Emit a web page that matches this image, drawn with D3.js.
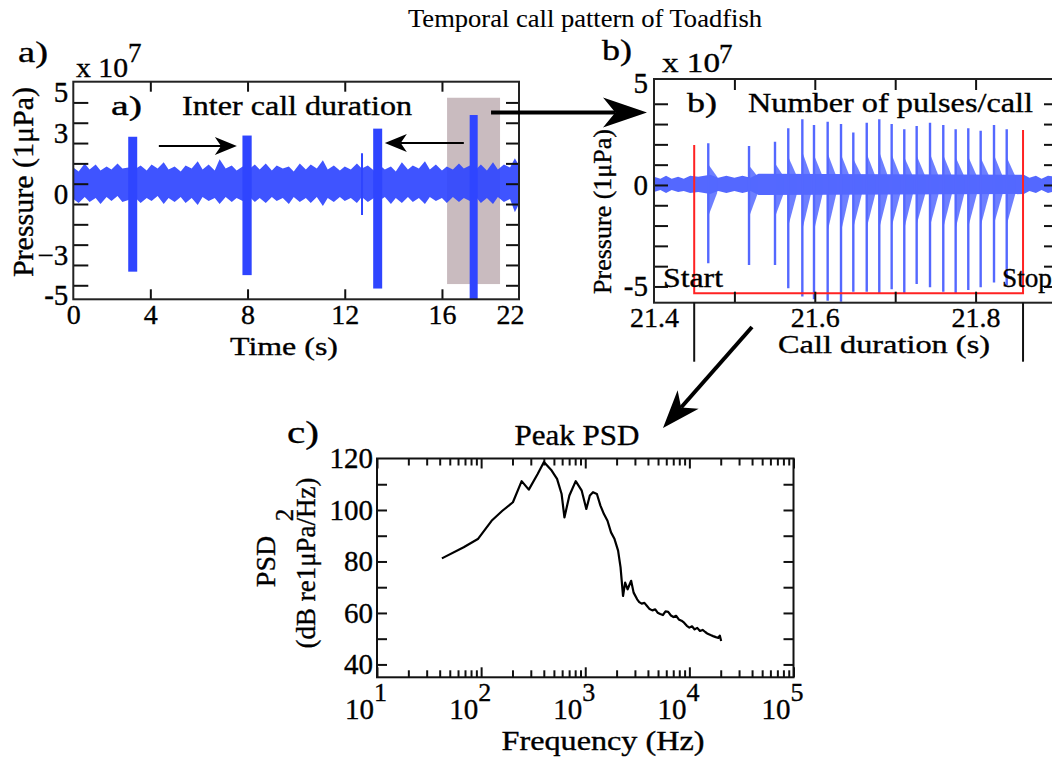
<!DOCTYPE html>
<html>
<head>
<meta charset="utf-8">
<script src="https://cdn.jsdelivr.net/npm/d3@7"></script>
<style>
body { margin: 0; background: #fff; }
svg text { font-family: "Liberation Serif", "Times New Roman", serif; fill: #000; stroke: #000; stroke-width: 0.35px; }
</style>
</head>
<body>
<script>
// Temporal call pattern of Toadfish - three panels
var width = 1052,
    height = 760;

// ---- panel a: whole recording (x 1e7 uPa) ----
var aTimeDomain = [0.83, 19.17];
var aTimeTicks = [0.83, 4, 8, 12, 16, 18.8];
var aTimeLabels = ["0", "4", "8", "12", "16", "22"];
var aTimeMinor = [4, 8, 12, 16];
var aPresDomain = [-5.19, 5.52];
var aPresTicks = [5, 3, 0, -3, -5];
var aPresLabels = ["5", "3", "0", "\u22123", "-5"];
var aPresMinor = [4.5, 3.5, 2.5, 1.5, 0.5, -0.5, -1.5, -2.5, -3.5, -4.5];

// background noise envelope
var aNoiseT  = [0.83, 1.05, 1.3, 1.5, 1.75, 1.95, 2.2, 2.4, 2.65, 2.85,
                3.1, 3.35, 3.6, 3.85, 4.05, 4.3, 4.55, 4.75, 5.0, 5.25,
                5.45, 5.7, 5.95, 6.15, 6.4, 6.65, 6.85, 7.1, 7.35, 7.55,
                7.8, 8.05, 8.3, 8.5, 8.75, 9.0, 9.2, 9.45, 9.7, 9.9,
                10.15, 10.4, 10.6, 10.85, 11.1, 11.3, 11.55, 11.8, 12.0, 12.25,
                12.5, 12.7, 12.95, 13.2, 13.4, 13.65, 13.9, 14.1, 14.35, 14.6,
                14.8, 15.05, 15.3, 15.5, 15.75, 16.0, 16.2, 16.45, 16.7, 16.9,
                17.15, 17.4, 17.6, 17.85, 18.1, 18.3, 18.55, 18.8, 19.0, 19.17];
var aNoiseHi = [1.3, 1.1, 1.5, 1.2, 1.45, 1.15, 1.35, 1.2, 1.5, 1.25,
                1.3, 1.2, 1.4, 1.15, 1.45, 1.25, 1.55, 1.2, 1.35, 1.1,
                1.4, 1.25, 1.6, 1.2, 1.45, 1.15, 1.7, 1.25, 1.4, 1.15,
                1.35, 1.2, 1.45, 1.2, 1.5, 1.15, 1.4, 1.25, 1.35, 1.1,
                1.5, 1.2, 1.45, 1.25, 1.65, 1.2, 1.4, 1.15, 1.35, 1.2,
                1.5, 1.25, 1.4, 1.15, 1.45, 1.2, 1.35, 1.1, 1.55, 1.2,
                1.4, 1.25, 1.6, 1.2, 1.45, 1.15, 1.35, 1.2, 1.5, 1.25,
                1.4, 1.2, 1.45, 1.15, 1.55, 1.2, 1.45, 1.3, 1.75, 1.4];
var aNoiseLo = [-0.25, -0.45, -0.15, -0.4, -0.2, -0.5, -0.15, -0.35, -0.1, -0.4,
                -0.3, -0.15, -0.45, -0.2, -0.35, -0.1, -0.5, -0.2, -0.4, -0.15,
                -0.45, -0.2, -0.55, -0.15, -0.35, -0.2, -0.5, -0.15, -0.4, -0.2,
                -0.35, -0.1, -0.4, -0.2, -0.45, -0.15, -0.35, -0.2, -0.5, -0.15,
                -0.4, -0.2, -0.45, -0.15, -0.6, -0.2, -0.4, -0.15, -0.35, -0.2,
                -0.45, -0.15, -0.4, -0.2, -0.35, -0.15, -0.5, -0.2, -0.45, -0.15,
                -0.4, -0.2, -0.5, -0.15, -0.35, -0.2, -0.45, -0.15, -0.4, -0.2,
                -0.35, -0.15, -0.45, -0.2, -0.5, -0.15, -0.4, -0.25, -0.9, -0.5];

// the four calls
var aCallStart = [3.09, 7.79, 13.17, 17.14];
var aCallEnd   = [3.46, 8.17, 13.54, 17.47];
var aCallHi    = [2.81, 2.87, 3.21, 3.88];
var aCallLo    = [-3.83, -4.0, -4.66, -5.4];
var aClickT  = [12.71];
var aClickHi = [2.0];
var aClickLo = [-1.04];

// highlighted call (t0, t1, top, bottom) and inter call arrows (from, to, level)
var aHighlight = [16.21, 18.39, 4.73, -4.44];
var aArrowFrom  = [4.35, 16.9];
var aArrowTo    = [7.56, 13.65];
var aArrowLevel = [2.35, 2.5];

// ---- panel b: one call ----
var bTimeDomain = [21.4, 21.9];
var bTimeTicks = [21.4, 21.6, 21.8];
var bTimeMinor = [21.5, 21.6, 21.7, 21.8];
var bPresDomain = [-5.8, 5.22];
var bPresTicks = [5, 0, -5];
var bPresLabels = ["5", "0", "-5"];
var bPresMinor = [4, 3, 2, 1, 0, -1, -2, -3, -4, -5];

var bNoiseT  = [21.4, 21.408, 21.415, 21.422, 21.43, 21.437, 21.445, 21.455, 21.47, 21.48, 21.49, 21.5,
                21.51, 21.52, 21.53, 21.86, 21.867, 21.875, 21.882, 21.89, 21.9];
var bNoiseHi = [0.4, 0.3, 0.45, 0.3, 0.4, 0.3, 0.45, 0.4, 0.5, 0.35, 0.45, 0.35,
                0.45, 0.35, 0.55, 0.5, 0.35, 0.45, 0.3, 0.45, 0.4];
var bNoiseLo = [-0.35, -0.25, -0.4, -0.25, -0.35, -0.3, -0.4, -0.35, -0.45, -0.3, -0.4, -0.3,
                -0.4, -0.3, -0.5, -0.45, -0.3, -0.4, -0.25, -0.4, -0.3];

var bPulseT  = [21.4675, 21.5182, 21.5505, 21.567, 21.5845, 21.599, 21.616, 21.6326, 21.6479, 21.6646, 21.6802,
                21.6956, 21.7113, 21.7267, 21.7433, 21.7598, 21.7752, 21.7909, 21.8063, 21.8229, 21.8387];
var bPulseHi = [2.05, 1.92, 2.13, 2.79, 3.24, 2.96, 3.12, 3.0, 2.58, 3.07, 3.24,
                3.0, 2.74, 2.91, 3.07, 2.96, 2.74, 2.79, 2.67, 2.96, 2.74];
var bPulseLo = [-3.86, -3.94, -3.94, -5.09, -5.5, -5.63, -5.7, -5.75, -5.26, -5.26, -5.33,
                -5.14, -5.37, -4.88, -5.04, -5.26, -5.37, -5.17, -5.04, -4.81, -4.93];

// start / stop bracket
var bBracketT = [21.45, 21.859];
var bBracketTop = [1.97, 2.71];
var bBracketBottom = -5.33;

// ---- panel c: peak PSD ----
var cFreqDomain = [10, 1e5];
var cFreqExp = [1, 2, 3, 4, 5];
var cPsdDomain = [35, 120];
var cPsdTicks = [120, 100, 80, 60, 40];
var cPsdMinor = [40, 50, 60, 70, 80, 90, 100, 110];

var cFreq = [42, 68, 93, 126, 160, 202, 245, 287, 349, 401, 476, 536, 593, 631, 704, 810, 925, 1024, 1107, 1187,
             1294, 1399, 1512, 1635, 1768, 1911, 2067, 2183, 2306, 2416, 2552, 2759, 2914, 3151, 3300, 3486, 3700,
             3919, 4150, 4407, 4700, 4955, 5250, 5569, 5900, 6260, 6650, 7040, 7450, 7913, 8400, 8897, 9450, 10000,
             10600, 11240, 11900, 12640, 13400, 14210, 15000, 15970, 16900, 17960, 19000, 19600, 20190];
var cPsd  = [81.2, 85.5, 88.7, 95.8, 99.7, 103.0, 111.2, 107.9, 114.0, 118.6, 115.3, 112.1, 106.2, 97.1, 105.6, 111.2, 107.5, 100.4, 105.6, 106.9,
             106.2, 101.7, 98.4, 95.8, 91.3, 88.7, 84.2, 77.7, 66.6, 71.8, 69.2, 72.5, 67.9, 65.3, 64.2, 63.6, 63.9,
             62.7, 61.5, 61.0, 61.4, 60.1, 59.6, 59.2, 60.6, 60.4, 59.0, 58.4, 58.9, 57.5, 57.0, 56.2, 55.0, 54.3,
             54.8, 53.6, 54.2, 53.0, 53.4, 52.6, 51.9, 51.4, 51.0, 50.6, 50.3, 51.2, 49.1];

var blueA = "#2f45ff",
    blueB = "#5468ff";

var svg = d3.select("body").append("svg")
    .attr("width", width)
    .attr("height", height);

// squeeze / stretch a text to a given width
function fit(sel, w) {
    sel.attr("textLength", w).attr("lengthAdjust", "spacingAndGlyphs");
    return sel;
}

function label(x, y, txt, size, w, anchor) {
    var t = svg.append("text")
        .attr("x", x).attr("y", y)
        .attr("font-size", size)
        .attr("text-anchor", anchor || "start")
        .text(txt);
    if (w) fit(t, w);
    return t;
}

function arrow(x1, y1, x2, y2, len, half, sw) {
    var dx = x2 - x1, dy = y2 - y1,
        L = Math.sqrt(dx * dx + dy * dy),
        ux = dx / L, uy = dy / L;
    var bx = x2 - ux * len, by = y2 - uy * len,
        nx = x2 - ux * len * 0.72, ny = y2 - uy * len * 0.72;
    svg.append("line")
        .attr("x1", x1).attr("y1", y1).attr("x2", nx).attr("y2", ny)
        .attr("stroke", "#000").attr("stroke-width", sw);
    svg.append("path")
        .attr("d", "M" + x2 + "," + y2 +
              "L" + (bx - uy * half) + "," + (by + ux * half) +
              "L" + nx + "," + ny +
              "L" + (bx + uy * half) + "," + (by - ux * half) + "Z")
        .attr("fill", "#000");
}

function styleAxis(g, size) {
    g.attr("font-family", null).attr("font-size", size);
    g.select(".domain").remove();
    g.selectAll("line").attr("stroke", "#111").attr("stroke-width", 2);
}

// title
label(585, 27, "Temporal call pattern of Toadfish", 26, 354, "middle").style("stroke-width", "0.1px");

// =================== panel a ===================
var A = {left: 73.3, right: 519, top: 81.7, bottom: 299.3};
var xA = d3.scaleLinear().domain(aTimeDomain).range([A.left, A.right]);
var yA = d3.scaleLinear().domain(aPresDomain).range([A.bottom, A.top]);

svg.append("clipPath").attr("id", "clipA").append("rect")
    .attr("x", A.left).attr("y", A.top)
    .attr("width", A.right - A.left).attr("height", A.bottom - A.top);

var gA = svg.append("g").attr("clip-path", "url(#clipA)");

gA.append("rect")
    .attr("x", xA(aHighlight[0]))
    .attr("y", yA(aHighlight[2]))
    .attr("width", xA(aHighlight[1]) - xA(aHighlight[0]))
    .attr("height", yA(aHighlight[3]) - yA(aHighlight[2]))
    .attr("fill", "#c9bbbf");

var noiseA = aNoiseT.map(function(t, i) { return {t: t, hi: aNoiseHi[i], lo: aNoiseLo[i]}; });
gA.append("path")
    .datum(noiseA)
    .attr("d", d3.area()
        .x(function(d) { return xA(d.t); })
        .y0(function(d) { return yA(d.lo); })
        .y1(function(d) { return yA(d.hi); }))
    .attr("fill", blueA)
    .attr("fill-opacity", 0.92);

gA.selectAll(".call")
    .data(aCallStart)
    .enter().append("rect")
    .attr("class", "call")
    .attr("x", function(d) { return xA(d); })
    .attr("y", function(d, i) { return yA(aCallHi[i]); })
    .attr("width", function(d, i) { return xA(aCallEnd[i]) - xA(d); })
    .attr("height", function(d, i) { return yA(aCallLo[i]) - yA(aCallHi[i]); })
    .attr("fill", blueA);

gA.selectAll(".click")
    .data(aClickT)
    .enter().append("line")
    .attr("class", "click")
    .attr("x1", function(d) { return xA(d); })
    .attr("x2", function(d) { return xA(d); })
    .attr("y1", function(d, i) { return yA(aClickHi[i]); })
    .attr("y2", function(d, i) { return yA(aClickLo[i]); })
    .attr("stroke", blueA).attr("stroke-width", 2);

// axes a
var gAl = svg.append("g").attr("transform", "translate(" + A.left + ",0)")
    .call(d3.axisLeft(yA).tickValues(aPresTicks).tickSize(0).tickPadding(5)
        .tickFormat(function(d, i) { return aPresLabels[i]; }));
styleAxis(gAl, 29);
styleAxis(svg.append("g").attr("transform", "translate(" + A.left + ",0)")
    .call(d3.axisRight(yA).tickValues(aPresMinor).tickSize(15).tickFormat("")), 26);
styleAxis(svg.append("g").attr("transform", "translate(" + A.right + ",0)")
    .call(d3.axisLeft(yA).tickValues(aPresMinor).tickSize(13).tickFormat("")), 26);
var gAb = svg.append("g").attr("transform", "translate(0," + A.bottom + ")")
    .call(d3.axisBottom(xA).tickValues(aTimeTicks).tickSize(0).tickPadding(5)
        .tickFormat(function(d, i) { return aTimeLabels[i]; }));
styleAxis(gAb, 28);
styleAxis(svg.append("g").attr("transform", "translate(0," + A.bottom + ")")
    .call(d3.axisTop(xA).tickValues(aTimeMinor).tickSize(10).tickFormat("")), 26);
styleAxis(svg.append("g").attr("transform", "translate(0," + A.top + ")")
    .call(d3.axisBottom(xA).tickValues(aTimeMinor).tickSize(10).tickFormat("")), 26);

svg.append("rect")
    .attr("x", A.left).attr("y", A.top)
    .attr("width", A.right - A.left).attr("height", A.bottom - A.top)
    .attr("fill", "none").attr("stroke", "#222").attr("stroke-width", 2);

// texts a
label(18, 62, "a)", 30, 30);
label(76, 77, "x 10", 28, 52);
label(128, 62, "7", 27);
label(111, 114.5, "a)", 27, 31);
label(182, 114.5, "Inter call duration", 27, 230);
label(284, 355, "Time (s)", 26, 108, "middle");
svg.append("text")
    .attr("transform", "translate(33,182) rotate(-90)")
    .attr("text-anchor", "middle")
    .attr("font-size", 30)
    .text("Pressure (1\u03bcPa)");

for (var i = 0; i < aArrowFrom.length; i++) {
    arrow(xA(aArrowFrom[i]), yA(aArrowLevel[i]), xA(aArrowTo[i]), yA(aArrowLevel[i]), 22, 9, 2);
}

// =================== panel b ===================
var B = {left: 654, right: 1056, top: 79, bottom: 302.7};
var xB = d3.scaleLinear().domain(bTimeDomain).range([B.left, B.right]);
var yB = d3.scaleLinear().domain(bPresDomain).range([B.bottom, B.top]);

svg.append("clipPath").attr("id", "clipB").append("rect")
    .attr("x", B.left).attr("y", B.top)
    .attr("width", B.right - B.left).attr("height", B.bottom - B.top);

var gB = svg.append("g").attr("clip-path", "url(#clipB)");

var noiseB = bNoiseT.map(function(t, i) { return {t: t, hi: bNoiseHi[i], lo: bNoiseLo[i]}; });
gB.append("path")
    .datum(noiseB)
    .attr("d", d3.area()
        .x(function(d) { return xB(d.t); })
        .y0(function(d) { return yB(d.lo); })
        .y1(function(d) { return yB(d.hi); }))
    .attr("fill", blueB);

var pulses = bPulseT.map(function(t, i) { return {t: t, hi: bPulseHi[i], lo: bPulseLo[i]}; });
// decaying ringing after each pulse
gB.selectAll(".tail")
    .data(pulses)
    .enter().append("path")
    .attr("class", "tail")
    .attr("d", function(d) {
        var x0 = xB(d.t), x1 = xB(d.t + 0.011);
        return "M" + x0 + "," + yB(d.hi * 0.5) +
               "L" + x1 + "," + yB(0.4) +
               "L" + x1 + "," + yB(-0.4) +
               "L" + x0 + "," + yB(d.lo * 0.4) + "Z";
    })
    .attr("fill", blueB)
    .attr("fill-opacity", 0.85);
gB.selectAll(".pulse")
    .data(pulses)
    .enter().append("line")
    .attr("class", "pulse")
    .attr("x1", function(d) { return xB(d.t); })
    .attr("x2", function(d) { return xB(d.t); })
    .attr("y1", function(d) { return yB(d.hi); })
    .attr("y2", function(d) { return yB(d.lo); })
    .attr("stroke", blueB).attr("stroke-width", 2.4);

// start / stop bracket
svg.append("path")
    .attr("d", "M" + xB(bBracketT[0]) + "," + yB(bBracketTop[0]) +
               "V" + yB(bBracketBottom) +
               "H" + xB(bBracketT[1]) +
               "V" + yB(bBracketTop[1]))
    .attr("fill", "none").attr("stroke", "#f22").attr("stroke-width", 2);

// axes b
var gBl = svg.append("g").attr("transform", "translate(" + B.left + ",0)")
    .call(d3.axisLeft(yB).tickValues(bPresTicks).tickSize(0).tickPadding(6)
        .tickFormat(function(d, i) { return bPresLabels[i]; }));
styleAxis(gBl, 29);
styleAxis(svg.append("g").attr("transform", "translate(" + B.left + ",0)")
    .call(d3.axisRight(yB).tickValues(bPresMinor).tickSize(14).tickFormat("")), 26);
styleAxis(svg.append("g").attr("transform", "translate(" + B.right + ",0)")
    .call(d3.axisLeft(yB).tickValues(bPresMinor).tickSize(12).tickFormat("")), 26);
var gBb = svg.append("g").attr("transform", "translate(0," + B.bottom + ")")
    .call(d3.axisBottom(xB).tickValues(bTimeTicks).tickSize(0).tickPadding(4)
        .tickFormat(d3.format(".1f")));
styleAxis(gBb, 28);
styleAxis(svg.append("g").attr("transform", "translate(0," + B.bottom + ")")
    .call(d3.axisTop(xB).tickValues(bTimeMinor).tickSize(11).tickFormat("")), 26);
styleAxis(svg.append("g").attr("transform", "translate(0," + B.top + ")")
    .call(d3.axisBottom(xB).tickValues(bTimeMinor).tickSize(11).tickFormat("")), 26);

svg.append("rect")
    .attr("x", B.left).attr("y", B.top)
    .attr("width", B.right - B.left).attr("height", B.bottom - B.top)
    .attr("fill", "none").attr("stroke", "#222").attr("stroke-width", 2);

// call limits carried below the axis
svg.selectAll(".limit")
    .data(bBracketT)
    .enter().append("line")
    .attr("class", "limit")
    .attr("x1", function(d) { return xB(d); })
    .attr("x2", function(d) { return xB(d); })
    .attr("y1", B.bottom)
    .attr("y2", B.bottom + 59)
    .attr("stroke", "#111").attr("stroke-width", 2);

// texts b
label(602, 60, "b)", 30, 30);
label(662, 72, "x 10", 28, 58);
label(719, 63, "7", 27);
label(687, 111.7, "b)", 27, 30);
label(748, 111.7, "Number of pulses/call", 27, 285);
label(663, 286.7, "Start", 27, 60);
label(1002, 286.7, "Stop", 27, 50);
label(884, 353, "Call duration (s)", 26, 212, "middle");
svg.append("text")
    .attr("transform", "translate(611,211.5) rotate(-90)")
    .attr("text-anchor", "middle")
    .attr("font-size", 26)
    .text("Pressure (1\u03bcPa)");

// connecting arrows
arrow(xA(aHighlight[1]) - 9, yA(4.0), B.left - 7, yA(4.0), 44, 15, 4);
arrow(752, 327, 663, 428, 38, 14, 4);

// =================== panel c ===================
var C = {left: 377, right: 793.5, top: 458.5, bottom: 677.3};
var xC = d3.scaleLog().domain(cFreqDomain).range([C.left, C.right]);
var yC = d3.scaleLinear().domain(cPsdDomain).range([C.bottom, C.top]);

var minorF = [];
cFreqExp.slice(0, -1).forEach(function(e) {
    for (var k = 2; k <= 9; k++) minorF.push(k * Math.pow(10, e));
});
var majorF = cFreqExp.map(function(e) { return Math.pow(10, e); });

styleAxis(svg.append("g").attr("transform", "translate(0," + C.bottom + ")")
    .call(d3.axisTop(xC).tickValues(minorF).tickSize(7).tickFormat("")), 26);
styleAxis(svg.append("g").attr("transform", "translate(0," + C.top + ")")
    .call(d3.axisBottom(xC).tickValues(minorF).tickSize(7).tickFormat("")), 26);
styleAxis(svg.append("g").attr("transform", "translate(0," + C.bottom + ")")
    .call(d3.axisTop(xC).tickValues(majorF).tickSize(10).tickFormat("")), 26);
styleAxis(svg.append("g").attr("transform", "translate(0," + C.top + ")")
    .call(d3.axisBottom(xC).tickValues(majorF).tickSize(10).tickFormat("")), 26);

var gCl = svg.append("g").attr("transform", "translate(" + C.left + ",0)")
    .call(d3.axisLeft(yC).tickValues(cPsdTicks).tickSize(0).tickPadding(4));
styleAxis(gCl, 29);
styleAxis(svg.append("g").attr("transform", "translate(" + C.left + ",0)")
    .call(d3.axisRight(yC).tickValues(cPsdMinor).tickSize(10).tickFormat("")), 26);
styleAxis(svg.append("g").attr("transform", "translate(" + C.right + ",0)")
    .call(d3.axisLeft(yC).tickValues(cPsdMinor).tickSize(10).tickFormat("")), 26);

// power-of-ten labels
var xl = svg.append("g").selectAll("g")
    .data(cFreqExp)
    .enter().append("g");
xl.append("text")
    .attr("x", function(d) { return xC(Math.pow(10, d)) - 3; })
    .attr("y", 719)
    .attr("font-size", 29)
    .attr("text-anchor", "end")
    .text("10");
xl.append("text")
    .attr("x", function(d) { return xC(Math.pow(10, d)) - 3; })
    .attr("y", 701)
    .attr("font-size", 26)
    .text(function(d) { return d; });

var psd = cFreq.map(function(f, i) { return {f: f, v: cPsd[i]}; });
svg.append("path")
    .datum(psd)
    .attr("d", d3.line()
        .x(function(d) { return xC(d.f); })
        .y(function(d) { return yC(d.v); }))
    .attr("fill", "none")
    .attr("stroke", "#000")
    .attr("stroke-width", 2.2)
    .attr("stroke-linejoin", "round");

svg.append("rect")
    .attr("x", C.left).attr("y", C.top)
    .attr("width", C.right - C.left).attr("height", C.bottom - C.top)
    .attr("fill", "none").attr("stroke", "#111").attr("stroke-width", 2);

// texts c
label(287, 443, "c)", 31, 32);
label(577, 445, "Peak PSD", 29, 125, "middle");
label(603, 750, "Frequency (Hz)", 27, 203, "middle");
svg.append("text")
    .attr("transform", "translate(275,561.5) rotate(-90)")
    .attr("text-anchor", "middle")
    .attr("font-size", 28)
    .text("PSD");
svg.append("text")
    .attr("transform", "translate(315,563) rotate(-90)")
    .attr("text-anchor", "middle")
    .attr("font-size", 27)
    .text("(dB re1\u03bcPa/Hz)");
svg.append("text")
    .attr("transform", "translate(293,515) rotate(-90)")
    .attr("text-anchor", "middle")
    .attr("font-size", 25)
    .text("2");
</script>
</body>
</html>
